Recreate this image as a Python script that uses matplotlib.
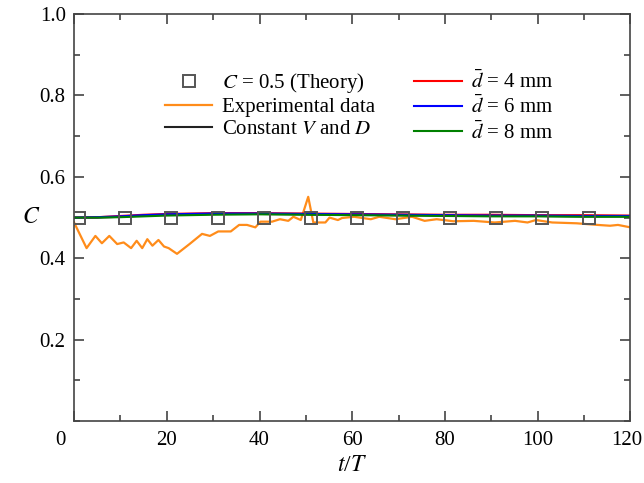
import numpy as np
import matplotlib
matplotlib.use('Agg')
import matplotlib.pyplot as plt
from matplotlib.ticker import MultipleLocator

plt.rcParams['font.family'] = ['Liberation Serif', 'DejaVu Serif']
plt.rcParams['mathtext.fontset'] = 'stix'

# theory points
t_theory = [1, 11, 21, 31, 41, 51, 61, 71, 81, 91, 101, 111]
c_theory = [0.5] * len(t_theory)

t_exp = [0, 2.7, 4.6, 6, 7.6, 9.3, 10.7, 12.3, 13.5, 14.7, 15.8, 16.9, 18.2, 19.4,
         20.4, 22.2, 24.9, 27.6, 29.3, 31.1, 33.8, 35.6, 37.3, 39.1, 40.2, 42.7,
         44.4, 46.2, 47.3, 48.9, 50.5, 51.6, 54.2, 55.1, 56.9, 57.8, 60.4, 64,
         65.8, 69.3, 72.9, 75.6, 78.2, 81.8, 86.2, 90.7, 95.1, 97.8, 99.6, 103.1,
         108.4, 112.9, 115.6, 117.3, 120]
c_exp = [0.488, 0.425, 0.455, 0.437, 0.455, 0.435, 0.439, 0.425, 0.443, 0.425,
         0.447, 0.431, 0.445, 0.429, 0.425, 0.411, 0.435, 0.46, 0.455, 0.466,
         0.466, 0.482, 0.482, 0.476, 0.49, 0.49, 0.496, 0.492, 0.502, 0.494,
         0.551, 0.488, 0.488, 0.5, 0.494, 0.499, 0.502, 0.496, 0.502, 0.496,
         0.502, 0.492, 0.496, 0.491, 0.492, 0.488, 0.492, 0.488, 0.494, 0.488,
         0.486, 0.482, 0.48, 0.482, 0.476]

# model curves
t_model = [0, 5, 10, 15, 20, 25, 30, 40, 50, 60, 70, 80, 90, 100, 110, 120]
c_const = [0.5, 0.5, 0.502, 0.505, 0.507, 0.508, 0.509, 0.509, 0.508, 0.507, 0.506, 0.505, 0.504, 0.504, 0.503, 0.503]
c_d4 = [0.5, 0.501, 0.504, 0.507, 0.509, 0.51, 0.511, 0.511, 0.51, 0.509, 0.508, 0.507, 0.507, 0.506, 0.506, 0.505]
c_d6 = [0.5, 0.501, 0.503, 0.506, 0.508, 0.509, 0.51, 0.51, 0.509, 0.508, 0.507, 0.506, 0.505, 0.505, 0.504, 0.504]
c_d8 = [0.5, 0.5, 0.501, 0.503, 0.505, 0.506, 0.507, 0.508, 0.507, 0.506, 0.505, 0.504, 0.503, 0.503, 0.502, 0.502]

x_ticks = [0, 20, 40, 60, 80, 100, 120]
x_ticklabels = ['', '20', '40', '60', '80', '100', '']
y_ticks = [0.2, 0.4, 0.6, 0.8, 1.0]
y_ticklabels = ['0.2', '0.4', '0.6', '0.8', '1.0']

fig = plt.figure(figsize=(6.44, 4.83), dpi=100)
ax = fig.add_axes([0.115, 0.128, 0.864, 0.843])

h_th, = ax.plot(t_theory, c_theory, 's', ms=9, mfc='none', mec='#555555', mew=1.4,
                label='$C$ = 0.5 (Theory)', zorder=5)
h_exp, = ax.plot(t_exp, c_exp, color='#ff8c1a', lw=1.6, label='Experimental data')
h_con, = ax.plot(t_model, c_const, color='#222222', lw=1.5, label='Constant $V$ and $D$')
h_d4, = ax.plot(t_model, c_d4, color='#ff0000', lw=1.5, label=r'$\bar{d}$ = 4 mm')
h_d6, = ax.plot(t_model, c_d6, color='#0000ff', lw=1.5, label=r'$\bar{d}$ = 6 mm')
h_d8, = ax.plot(t_model, c_d8, color='#008000', lw=1.5, label=r'$\bar{d}$ = 8 mm')

ax.set_xlim(0, 120)
ax.set_ylim(0, 1.0)
ax.set_xticks(x_ticks)
ax.set_xticklabels(x_ticklabels)
ax.xaxis.set_minor_locator(MultipleLocator(10))
ax.set_yticks(y_ticks)
ax.set_yticklabels(y_ticklabels)
ax.yaxis.set_minor_locator(MultipleLocator(0.1))
ax.tick_params(which='both', direction='in', top=True, right=True, labelsize=15,
               color='#444444', width=1.2)
ax.tick_params(which='major', length=7)
ax.tick_params(which='minor', length=4)
ax.tick_params(axis='x', pad=7)
ax.tick_params(axis='y', pad=6)
for s in ax.spines.values():
    s.set_color('#444444')
    s.set_linewidth(1.2)

# end labels: origin sits left of the corner, 120 a little inside the edge
ax.annotate('0', xy=(0, 0), xycoords='data', xytext=(-10, -7), textcoords='offset points',
            ha='center', va='top', fontsize=15)
ax.annotate('120', xy=(120, 0), xycoords='data', xytext=(-2.5, -7), textcoords='offset points',
            ha='center', va='top', fontsize=15)

ax.set_xlabel('$t$/$T$', fontsize=17, labelpad=4)
ax.set_ylabel('$C$', fontsize=17, rotation=0, va='center')
ax.yaxis.set_label_coords(-0.078, 0.5)

ax.legend(handles=[h_th, h_exp, h_con, h_d4, h_d6, h_d8], ncol=2, frameon=False,
          fontsize=15, handlelength=2.26, handletextpad=0.45, columnspacing=1.9,
          labelspacing=0.12, borderpad=0, borderaxespad=0,
          loc='upper left', bbox_to_anchor=(0.164, 0.862))

fig.savefig('out.png', dpi=100)
